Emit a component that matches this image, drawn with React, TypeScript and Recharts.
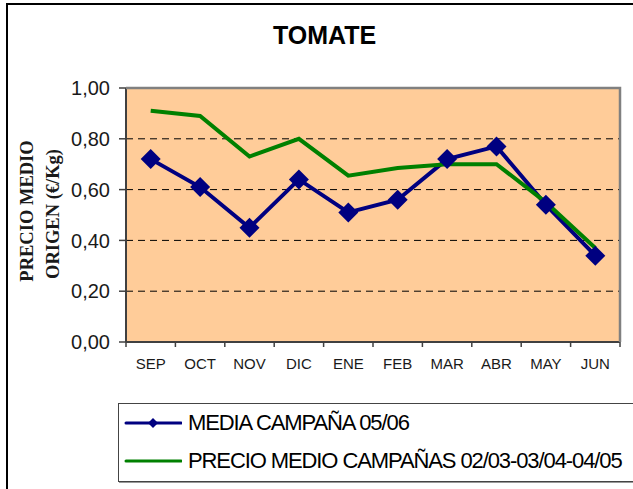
import { LineChart, Line, XAxis, YAxis, CartesianGrid } from "recharts";

const months = ["SEP", "OCT", "NOV", "DIC", "ENE", "FEB", "MAR", "ABR", "MAY", "JUN"];
const media0506 = [0.72, 0.61, 0.45, 0.64, 0.51, 0.56, 0.72, 0.77, 0.54, 0.34];
const precioMedio = [0.91, 0.89, 0.73, 0.8, 0.655, 0.685, 0.7, 0.7, 0.55, 0.37];
const yTicks = [0, 0.2, 0.4, 0.6, 0.8, 1];

const series = [
  { key: "media", name: "MEDIA CAMPAÑA 05/06", color: "#000080", marker: true },
  { key: "precio", name: "PRECIO MEDIO CAMPAÑAS 02/03-03/04-04/05", color: "#008000", marker: false },
];

const chartData = months.map((m, i) => ({
  month: m,
  media: media0506[i],
  precio: precioMedio[i],
}));

// plot area box (matches the chart margins below)
const PLOT_LEFT = 126;
const PLOT_TOP = 88;
const PLOT_RIGHT = 620;
const PLOT_BOTTOM = 342;
const BAND = (PLOT_RIGHT - PLOT_LEFT) / months.length;

const fmt = (v: number) => v.toFixed(2).replace(".", ",");

const Diamond = ({ cx, cy, r = 10, fill }: any) => (
  <polygon
    points={`${cx},${cy - r} ${cx + r},${cy} ${cx},${cy + r} ${cx - r},${cy}`}
    fill={fill}
  />
);

const XTick = ({ x, payload, index }: any) => (
  <g>
    <line x1={x - BAND / 2} x2={x - BAND / 2} y1={PLOT_BOTTOM} y2={PLOT_BOTTOM + 5} stroke="#404040" strokeWidth={1.5} />
    {index === months.length - 1 && (
      <line x1={x + BAND / 2} x2={x + BAND / 2} y1={PLOT_BOTTOM} y2={PLOT_BOTTOM + 5} stroke="#404040" strokeWidth={1.5} />
    )}
    <text x={x} y={PLOT_BOTTOM + 27} textAnchor="middle" fontSize={15} fill="#1a1a1a" fontFamily="'Liberation Sans', Arial, sans-serif">
      {payload.value}
    </text>
  </g>
);

const YLabel = () => (
  <g fontFamily="'Liberation Serif', 'Times New Roman', serif" fontWeight="bold" fontSize={18.5} fill="#1a1a1a">
    <text transform="translate(33,211) rotate(-90)" textAnchor="middle">PRECIO MEDIO</text>
    <text transform="translate(59,214) rotate(-90)" textAnchor="middle">ORIGEN (€/Kg)</text>
  </g>
);

export default function App() {
  return (
    <div
      style={{
        position: "fixed",
        left: 0,
        top: 0,
        width: 633,
        height: 489,
        overflow: "hidden",
        background: "#fff",
        fontFamily: "'Liberation Sans', Arial, sans-serif",
      }}
    >
      {/* outer chart frame, runs off the right and bottom edge */}
      <div
        style={{
          position: "absolute",
          left: 6,
          top: 3,
          width: 800,
          height: 700,
          border: "2px solid #000",
          boxSizing: "border-box",
        }}
      />

      <div
        style={{
          position: "absolute",
          left: 0,
          top: 20,
          width: 649,
          textAlign: "center",
          fontSize: 25,
          fontWeight: "bold",
          color: "#000",
          lineHeight: "30px",
        }}
      >
        TOMATE
      </div>

      <div style={{ position: "absolute", left: 0, top: 0 }}>
        <LineChart
          width={633}
          height={489}
          data={chartData}
          margin={{ top: PLOT_TOP, right: 633 - PLOT_RIGHT, bottom: 0, left: 0 }}
        >
          <CartesianGrid
            vertical={false}
            fill="#FFCC99"
            fillOpacity={1}
            stroke="#000"
            strokeDasharray="7 5"
            horizontalValues={[0.2, 0.4, 0.6, 0.8]}
          />
          <XAxis
            dataKey="month"
            height={489 - PLOT_BOTTOM}
            padding={{ left: BAND / 2, right: BAND / 2 }}
            tickLine={false}
            axisLine={{ stroke: "#404040", strokeWidth: 2 }}
            tick={<XTick />}
            interval={0}
          />
          <YAxis
            width={PLOT_LEFT}
            domain={[0, 1]}
            ticks={yTicks}
            tickFormatter={fmt}
            tickSize={7}
            tickMargin={9}
            tickLine={{ stroke: "#404040", strokeWidth: 1.5 }}
            axisLine={{ stroke: "#404040", strokeWidth: 2 }}
            tick={{ fontSize: 20, fill: "#1a1a1a" }}
          />
          <Line
            dataKey="media"
            stroke="#000080"
            strokeWidth={4}
            dot={false}
            isAnimationActive={false}
          />
          <Line
            dataKey="precio"
            stroke="#008000"
            strokeWidth={4}
            dot={false}
            isAnimationActive={false}
          />
          <Line
            dataKey="media"
            stroke="none"
            dot={(p: any) => <Diamond key={p.index} cx={p.cx} cy={p.cy} fill="#000080" />}
            legendType="none"
            isAnimationActive={false}
          />
        </LineChart>
      </div>

      <svg style={{ position: "absolute", left: 0, top: 0 }} width={633} height={489}>
        {/* grey top and right edge of the plot area */}
        <polyline
          points={`${PLOT_LEFT},${PLOT_TOP} ${PLOT_RIGHT},${PLOT_TOP} ${PLOT_RIGHT},${PLOT_BOTTOM}`}
          fill="none"
          stroke="#808080"
          strokeWidth={2.5}
        />
        <YLabel />
      </svg>

      {/* legend */}
      <div
        style={{
          position: "absolute",
          left: 118,
          top: 403,
          width: 600,
          height: 79,
          border: "1px solid #444",
          boxShadow: "1px 1px 0 #999",
          boxSizing: "border-box",
        }}
      >
        {series.map((s, i) => (
          <div
            key={s.key}
            style={{
              position: "absolute",
              left: 5,
              top: 4 + i * 38,
              height: 30,
              display: "flex",
              alignItems: "center",
              whiteSpace: "nowrap",
            }}
          >
            <svg width={58} height={14}>
              <line x1={2} x2={57} y1={7} y2={7} stroke={s.color} strokeWidth={3} strokeLinecap="round" />
              {s.marker && <Diamond cx={29} cy={7} r={5} fill={s.color} />}
            </svg>
            <span style={{ marginLeft: 6, fontSize: 22, letterSpacing: -1.1, color: "#000" }}>{s.name}</span>
          </div>
        ))}
      </div>
    </div>
  );
}
